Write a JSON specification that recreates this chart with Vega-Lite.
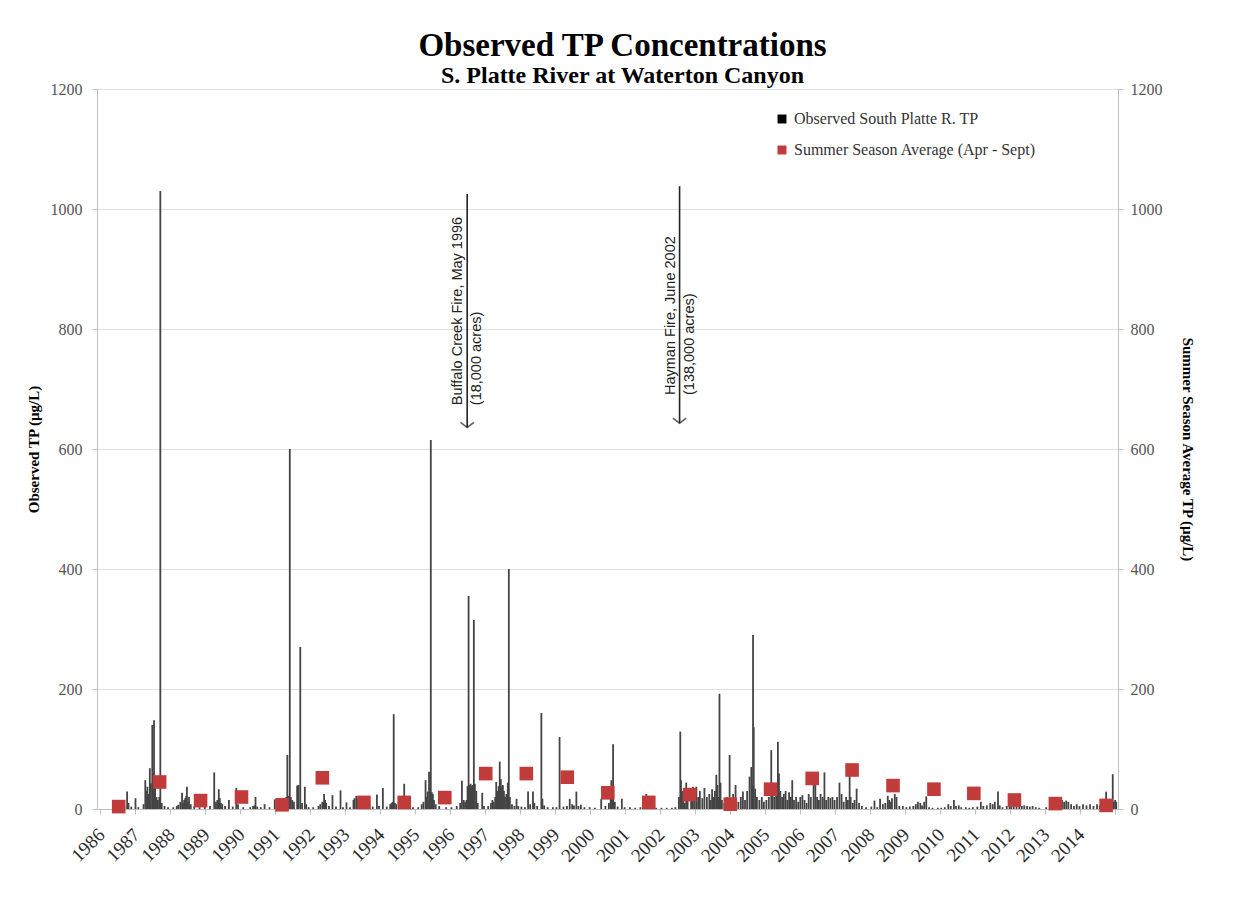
{
 "$schema": "https://vega.github.io/schema/vega-lite/v6.json",
 "width": 1021, "height": 720,
 "autosize": {"type": "none"},
 "padding": {"left": 97, "top": 89, "right": 115, "bottom": 90},
 "background": "white",
 "config": {"view": {"stroke": null}, "axisX": {"labelOverlap": false}},
 "title": {"text": "Observed TP Concentrations", "subtitle": "S. Platte River at Waterton  Canyon", "font": "Liberation Serif", "fontSize": 33, "fontWeight": "bold", "color": "#000", "subtitleFont": "Liberation Serif", "subtitleFontSize": 24, "subtitleFontWeight": "bold", "subtitleColor": "#000", "subtitlePadding": 1, "anchor": "middle", "offset": -7, "dx": 15},
 "datasets": {
  "obs": [
   {"t":1986.60,"tp":3},{"t":1986.70,"tp":5},{"t":1986.78,"tp":29},{"t":1986.82,"tp":10},{"t":1986.90,"tp":4},{"t":1987.02,"tp":18},{"t":1987.10,"tp":3},
   {"t":1987.25,"tp":8},{"t":1987.30,"tp":48},{"t":1987.33,"tp":30},{"t":1987.36,"tp":37},{"t":1987.40,"tp":25},{"t":1987.43,"tp":68},{"t":1987.46,"tp":43},{"t":1987.50,"tp":140},{"t":1987.53,"tp":60},{"t":1987.55,"tp":148},{"t":1987.58,"tp":35},{"t":1987.62,"tp":20},{"t":1987.66,"tp":15},{"t":1987.70,"tp":20},{"t":1987.73,"tp":1030},{"t":1987.77,"tp":10},{"t":1987.85,"tp":5},{"t":1987.95,"tp":3},
   {"t":1988.10,"tp":3},{"t":1988.20,"tp":5},{"t":1988.24,"tp":7},{"t":1988.30,"tp":12},{"t":1988.35,"tp":27},{"t":1988.38,"tp":10},{"t":1988.41,"tp":15},{"t":1988.44,"tp":18},{"t":1988.47,"tp":22},{"t":1988.49,"tp":37},{"t":1988.52,"tp":12},{"t":1988.55,"tp":20},{"t":1988.60,"tp":8},{"t":1988.70,"tp":5},{"t":1988.85,"tp":3},
   {"t":1989.00,"tp":4},{"t":1989.15,"tp":5},{"t":1989.27,"tp":61},{"t":1989.32,"tp":12},{"t":1989.36,"tp":15},{"t":1989.40,"tp":33},{"t":1989.43,"tp":18},{"t":1989.46,"tp":10},{"t":1989.50,"tp":8},{"t":1989.58,"tp":5},{"t":1989.69,"tp":15},{"t":1989.80,"tp":4},{"t":1989.90,"tp":35},{"t":1989.95,"tp":8},
   {"t":1990.10,"tp":3},{"t":1990.30,"tp":3},{"t":1990.38,"tp":5},{"t":1990.42,"tp":6},{"t":1990.45,"tp":20},{"t":1990.50,"tp":4},{"t":1990.60,"tp":3},{"t":1990.71,"tp":8},{"t":1990.85,"tp":3},{"t":1991.00,"tp":16},{"t":1991.10,"tp":3},
   {"t":1991.25,"tp":5},{"t":1991.30,"tp":17},{"t":1991.33,"tp":20},{"t":1991.36,"tp":90},{"t":1991.38,"tp":22},{"t":1991.41,"tp":18},{"t":1991.43,"tp":600},{"t":1991.46,"tp":20},{"t":1991.50,"tp":15},{"t":1991.55,"tp":12},{"t":1991.64,"tp":39},{"t":1991.68,"tp":40},{"t":1991.73,"tp":270},{"t":1991.78,"tp":10},{"t":1991.86,"tp":37},{"t":1991.90,"tp":8},{"t":1991.97,"tp":3},
   {"t":1992.10,"tp":3},{"t":1992.25,"tp":5},{"t":1992.30,"tp":8},{"t":1992.36,"tp":12},{"t":1992.39,"tp":10},{"t":1992.41,"tp":25},{"t":1992.44,"tp":15},{"t":1992.47,"tp":10},{"t":1992.55,"tp":5},{"t":1992.65,"tp":23},{"t":1992.75,"tp":4},{"t":1992.88,"tp":31},{"t":1992.95,"tp":3},{"t":1993.05,"tp":11},
   {"t":1993.15,"tp":3},{"t":1993.25,"tp":15},{"t":1993.28,"tp":18},{"t":1993.33,"tp":22},{"t":1993.36,"tp":18},{"t":1993.40,"tp":20},{"t":1993.44,"tp":15},{"t":1993.48,"tp":12},{"t":1993.52,"tp":10},{"t":1993.60,"tp":6},{"t":1993.70,"tp":4},{"t":1993.80,"tp":4},{"t":1993.92,"tp":24},{"t":1993.98,"tp":5},
   {"t":1994.09,"tp":35},{"t":1994.20,"tp":4},{"t":1994.30,"tp":8},{"t":1994.34,"tp":10},{"t":1994.37,"tp":12},{"t":1994.40,"tp":158},{"t":1994.43,"tp":10},{"t":1994.47,"tp":8},{"t":1994.55,"tp":5},{"t":1994.70,"tp":42},{"t":1994.80,"tp":4},{"t":1994.95,"tp":3},
   {"t":1995.10,"tp":3},{"t":1995.20,"tp":8},{"t":1995.25,"tp":12},{"t":1995.31,"tp":48},{"t":1995.34,"tp":20},{"t":1995.37,"tp":29},{"t":1995.41,"tp":62},{"t":1995.43,"tp":30},{"t":1995.46,"tp":615},{"t":1995.49,"tp":28},{"t":1995.52,"tp":25},{"t":1995.55,"tp":15},{"t":1995.60,"tp":8},{"t":1995.70,"tp":5},{"t":1995.90,"tp":3},
   {"t":1996.05,"tp":3},{"t":1996.20,"tp":5},{"t":1996.30,"tp":10},{"t":1996.35,"tp":47},{"t":1996.40,"tp":15},{"t":1996.44,"tp":12},{"t":1996.48,"tp":15},{"t":1996.51,"tp":38},{"t":1996.54,"tp":355},{"t":1996.57,"tp":40},{"t":1996.60,"tp":42},{"t":1996.63,"tp":38},{"t":1996.66,"tp":40},{"t":1996.69,"tp":315},{"t":1996.72,"tp":42},{"t":1996.76,"tp":30},{"t":1996.80,"tp":10},{"t":1996.93,"tp":27},{"t":1996.98,"tp":5},
   {"t":1997.10,"tp":5},{"t":1997.18,"tp":10},{"t":1997.22,"tp":15},{"t":1997.26,"tp":12},{"t":1997.30,"tp":20},{"t":1997.33,"tp":45},{"t":1997.36,"tp":30},{"t":1997.40,"tp":38},{"t":1997.43,"tp":79},{"t":1997.46,"tp":50},{"t":1997.49,"tp":38},{"t":1997.52,"tp":40},{"t":1997.55,"tp":30},{"t":1997.58,"tp":20},{"t":1997.62,"tp":25},{"t":1997.66,"tp":44},{"t":1997.69,"tp":400},{"t":1997.72,"tp":20},{"t":1997.78,"tp":8},{"t":1997.85,"tp":5},{"t":1997.91,"tp":17},{"t":1997.96,"tp":5},
   {"t":1998.05,"tp":4},{"t":1998.15,"tp":3},{"t":1998.24,"tp":29},{"t":1998.30,"tp":8},{"t":1998.38,"tp":29},{"t":1998.42,"tp":10},{"t":1998.50,"tp":5},{"t":1998.62,"tp":160},{"t":1998.65,"tp":17},{"t":1998.70,"tp":6},{"t":1998.80,"tp":3},{"t":1998.95,"tp":3},
   {"t":1999.05,"tp":3},{"t":1999.14,"tp":120},{"t":1999.25,"tp":4},{"t":1999.35,"tp":5},{"t":1999.43,"tp":17},{"t":1999.50,"tp":8},{"t":1999.55,"tp":6},{"t":1999.62,"tp":29},{"t":1999.68,"tp":5},{"t":1999.75,"tp":7},{"t":1999.85,"tp":3},
   {"t":2000.00,"tp":3},{"t":2000.15,"tp":2},{"t":2000.33,"tp":17},{"t":2000.45,"tp":5},{"t":2000.55,"tp":10},{"t":2000.60,"tp":20},{"t":2000.62,"tp":48},{"t":2000.65,"tp":30},{"t":2000.67,"tp":108},{"t":2000.72,"tp":12},{"t":2000.80,"tp":4},{"t":2000.92,"tp":17},{"t":2001.00,"tp":3},
   {"t":2001.15,"tp":3},{"t":2001.30,"tp":2},{"t":2001.45,"tp":3},{"t":2001.55,"tp":5},{"t":2001.62,"tp":25},{"t":2001.66,"tp":10},{"t":2001.75,"tp":3},{"t":2001.90,"tp":2},
   {"t":2002.05,"tp":2},{"t":2002.20,"tp":2},{"t":2002.35,"tp":2},{"t":2002.45,"tp":3},{"t":2002.55,"tp":20},{"t":2002.59,"tp":129},{"t":2002.61,"tp":48},{"t":2002.64,"tp":30},{"t":2002.68,"tp":20},{"t":2002.72,"tp":10},{"t":2002.76,"tp":44},{"t":2002.80,"tp":15},{"t":2002.90,"tp":25},{"t":2002.95,"tp":37},{"t":2003.00,"tp":20},{"t":2003.05,"tp":37},{"t":2003.10,"tp":20},{"t":2003.15,"tp":30},{"t":2003.22,"tp":18},{"t":2003.28,"tp":35},
   {"t":2003.35,"tp":20},{"t":2003.42,"tp":25},{"t":2003.46,"tp":15},{"t":2003.50,"tp":33},{"t":2003.54,"tp":20},{"t":2003.58,"tp":30},{"t":2003.62,"tp":57},{"t":2003.65,"tp":40},{"t":2003.68,"tp":20},{"t":2003.71,"tp":192},{"t":2003.74,"tp":44},{"t":2003.78,"tp":15},{"t":2003.85,"tp":10},{"t":2003.92,"tp":20},{"t":2004.00,"tp":90},{"t":2004.05,"tp":10},
   {"t":2004.10,"tp":25},{"t":2004.17,"tp":40},{"t":2004.25,"tp":12},{"t":2004.32,"tp":20},{"t":2004.38,"tp":29},{"t":2004.44,"tp":15},{"t":2004.50,"tp":30},{"t":2004.57,"tp":54},{"t":2004.62,"tp":70},{"t":2004.65,"tp":40},{"t":2004.67,"tp":290},{"t":2004.69,"tp":136},{"t":2004.73,"tp":34},{"t":2004.78,"tp":20},{"t":2004.85,"tp":15},{"t":2004.92,"tp":20},{"t":2004.98,"tp":12},
   {"t":2005.05,"tp":15},{"t":2005.12,"tp":20},{"t":2005.19,"tp":98},{"t":2005.23,"tp":25},{"t":2005.28,"tp":20},{"t":2005.33,"tp":40},{"t":2005.38,"tp":112},{"t":2005.41,"tp":59},{"t":2005.45,"tp":30},{"t":2005.50,"tp":20},{"t":2005.55,"tp":25},{"t":2005.60,"tp":30},{"t":2005.65,"tp":15},{"t":2005.70,"tp":28},{"t":2005.75,"tp":20},{"t":2005.79,"tp":48},{"t":2005.84,"tp":15},{"t":2005.90,"tp":20},{"t":2005.96,"tp":12},
   {"t":2006.02,"tp":20},{"t":2006.08,"tp":23},{"t":2006.14,"tp":15},{"t":2006.20,"tp":10},{"t":2006.26,"tp":25},{"t":2006.32,"tp":20},{"t":2006.40,"tp":48},{"t":2006.45,"tp":41},{"t":2006.50,"tp":20},{"t":2006.55,"tp":15},{"t":2006.60,"tp":25},{"t":2006.66,"tp":20},{"t":2006.71,"tp":61},{"t":2006.76,"tp":15},{"t":2006.82,"tp":20},{"t":2006.88,"tp":18},{"t":2006.94,"tp":20},
   {"t":2007.00,"tp":15},{"t":2007.07,"tp":20},{"t":2007.14,"tp":44},{"t":2007.20,"tp":25},{"t":2007.26,"tp":12},{"t":2007.33,"tp":20},{"t":2007.38,"tp":15},{"t":2007.43,"tp":65},{"t":2007.46,"tp":20},{"t":2007.52,"tp":10},{"t":2007.57,"tp":15},{"t":2007.63,"tp":34},{"t":2007.70,"tp":10},{"t":2007.78,"tp":5},{"t":2007.90,"tp":3},
   {"t":2008.05,"tp":4},{"t":2008.14,"tp":14},{"t":2008.22,"tp":3},{"t":2008.30,"tp":17},{"t":2008.38,"tp":8},{"t":2008.45,"tp":10},{"t":2008.52,"tp":22},{"t":2008.56,"tp":15},{"t":2008.60,"tp":12},{"t":2008.64,"tp":18},{"t":2008.72,"tp":25},{"t":2008.77,"tp":20},{"t":2008.85,"tp":5},{"t":2008.95,"tp":5},
   {"t":2009.05,"tp":3},{"t":2009.15,"tp":4},{"t":2009.25,"tp":5},{"t":2009.32,"tp":8},{"t":2009.38,"tp":12},{"t":2009.45,"tp":10},{"t":2009.50,"tp":6},{"t":2009.56,"tp":12},{"t":2009.62,"tp":21},{"t":2009.70,"tp":3},{"t":2009.80,"tp":2},
   {"t":2009.95,"tp":2},{"t":2010.05,"tp":2},{"t":2010.15,"tp":3},{"t":2010.25,"tp":8},{"t":2010.32,"tp":5},{"t":2010.41,"tp":15},{"t":2010.47,"tp":5},{"t":2010.55,"tp":6},{"t":2010.62,"tp":3},{"t":2010.75,"tp":3},{"t":2010.85,"tp":2},
   {"t":2010.95,"tp":3},{"t":2011.08,"tp":4},{"t":2011.18,"tp":12},{"t":2011.25,"tp":5},{"t":2011.35,"tp":6},{"t":2011.45,"tp":10},{"t":2011.52,"tp":8},{"t":2011.58,"tp":12},{"t":2011.67,"tp":29},{"t":2011.72,"tp":6},{"t":2011.80,"tp":3},
   {"t":2011.92,"tp":5},{"t":2012.00,"tp":22},{"t":2012.05,"tp":18},{"t":2012.12,"tp":8},{"t":2012.20,"tp":6},{"t":2012.28,"tp":6},{"t":2012.35,"tp":5},{"t":2012.42,"tp":6},{"t":2012.50,"tp":5},{"t":2012.58,"tp":4},{"t":2012.66,"tp":5},{"t":2012.75,"tp":3},{"t":2012.85,"tp":2},
   {"t":2013.05,"tp":3},{"t":2013.25,"tp":8},{"t":2013.32,"tp":10},{"t":2013.38,"tp":12},{"t":2013.44,"tp":13},{"t":2013.50,"tp":15},{"t":2013.56,"tp":12},{"t":2013.62,"tp":14},{"t":2013.68,"tp":12},{"t":2013.76,"tp":8},{"t":2013.84,"tp":5},{"t":2013.92,"tp":8},{"t":2014.00,"tp":5},
   {"t":2014.10,"tp":8},{"t":2014.20,"tp":6},{"t":2014.30,"tp":8},{"t":2014.40,"tp":5},{"t":2014.50,"tp":8},{"t":2014.58,"tp":6},{"t":2014.66,"tp":12},{"t":2014.72,"tp":15},{"t":2014.76,"tp":29},{"t":2014.80,"tp":10},{"t":2014.84,"tp":15},{"t":2014.88,"tp":12},{"t":2014.92,"tp":15},{"t":2014.95,"tp":58},{"t":2014.98,"tp":12},{"t":2015.02,"tp":15},{"t":2015.05,"tp":12}
  ],
  "avg": [
   {"t":1986.54,"avg":4},{"t":1987.71,"avg":45},{"t":1988.88,"avg":14},{"t":1990.05,"avg":20},{"t":1991.21,"avg":7},{"t":1992.36,"avg":52},{"t":1993.55,"avg":11},{"t":1994.70,"avg":11},{"t":1995.86,"avg":19},{"t":1997.03,"avg":59},{"t":1998.19,"avg":59},{"t":1999.36,"avg":53},{"t":2000.52,"avg":27},{"t":2001.69,"avg":11},{"t":2002.86,"avg":24},{"t":2004.02,"avg":8},{"t":2005.17,"avg":33},{"t":2006.36,"avg":51},{"t":2007.50,"avg":65},{"t":2008.67,"avg":39},{"t":2009.84,"avg":33},{"t":2010.98,"avg":26},{"t":2012.14,"avg":15},{"t":2013.31,"avg":9},{"t":2014.76,"avg":6}
  ],
  "fires": [
   {"t":1996.5,"top":1025,"tip":636,"line1":"Buffalo Creek Fire, May 1996","line2":"(18,000 acres)","ty":673},
   {"t":2002.57,"top":1038,"tip":643,"line1":"Hayman Fire, June  2002","line2":"(138,000 acres)","ty":690}
  ]
 },
 "encoding": {
  "x": {"field": "t", "type": "quantitative", "title": null, "scale": {"domain": [1985.92, 2015.1], "nice": false, "zero": false},
   "axis": {"values": [1986,1987,1988,1989,1990,1991,1992,1993,1994,1995,1996,1997,1998,1999,2000,2001,2002,2003,2004,2005,2006,2007,2008,2009,2010,2011,2012,2013,2014,2015], "format": "d", "labelExpr": "datum.value > 2014.5 ? '' : datum.label", "labelAngle": -45, "labelOverlap": false, "labelBound": false, "labelFont": "Liberation Serif", "labelFontSize": 19, "labelColor": "#2a2a2a", "tickSize": 5, "tickColor": "#bfbfbf", "domainColor": "#bfbfbf", "grid": false, "labelPadding": 11, "labelOffset": -5}}
 },
 "layer": [
  {
   "data": {"name": "obs"},
   "mark": {"type": "rule", "strokeWidth": 1.8, "color": "#444"},
   "encoding": {
    "y": {"field": "tp", "type": "quantitative", "scale": {"domain": [0, 1200], "nice": false},
     "axis": {"title": "Observed TP (µg/L)", "values": [0,200,400,600,800,1000,1200], "format": "d", "labelFont": "Liberation Serif", "labelFontSize": 16, "labelColor": "#555", "titleFont": "Liberation Serif", "titleFontSize": 15, "titleFontWeight": "bold", "titleColor": "#000", "grid": true, "gridColor": "#e0e0e0", "domainColor": "#bfbfbf", "tickColor": "#bfbfbf", "tickSize": 5, "labelPadding": 10, "titlePadding": 9}},
    "y2": {"datum": 0}
   }
  },
  {
   "data": {"name": "avg"},
   "transform": [{"calculate": "'Summer Season Average (Apr - Sept)'", "as": "series"}],
   "mark": {"type": "point", "shape": "square", "filled": true, "size": 185, "opacity": 1},
   "encoding": {
    "y": {"field": "avg", "type": "quantitative", "scale": {"domain": [0, 1200], "nice": false},
     "axis": {"orient": "right", "title": "Summer Season Average TP (µg/L)", "values": [0,200,400,600,800,1000,1200], "format": "d", "labelFont": "Liberation Serif", "labelFontSize": 16, "labelColor": "#555", "titleFont": "Liberation Serif", "titleFontSize": 15, "titleFontWeight": "bold", "titleColor": "#000", "grid": false, "domainColor": "#bfbfbf", "tickColor": "#bfbfbf", "tickSize": 5, "labelPadding": 7, "titlePadding": 17}},
    "color": {"field": "series", "type": "nominal",
     "scale": {"domain": ["Observed South Platte R. TP", "Summer Season Average (Apr - Sept)"], "range": ["#000000", "#c23b3b"]},
     "legend": {"title": null, "orient": "none", "legendX": 677, "legendY": 22, "symbolType": "square", "symbolSize": 80, "labelFont": "Liberation Serif", "labelFontSize": 16, "labelColor": "#333", "labelLimit": 0, "rowPadding": 15, "labelOffset": 4}}
   }
  },
  {
   "data": {"name": "fires"},
   "mark": {"type": "rule", "strokeWidth": 1.6, "color": "#222"},
   "encoding": {
    "y": {"field": "top", "type": "quantitative", "scale": {"domain": [0, 1200], "nice": false}, "axis": null},
    "y2": {"field": "tip"}
   }
  },
  {
   "data": {"name": "fires"},
   "mark": {"type": "point", "shape": "M-1,-0.75L0,0L1,-0.75", "filled": false, "stroke": "#222", "strokeWidth": 1.6, "size": 180},
   "encoding": {
    "y": {"field": "tip", "type": "quantitative", "scale": {"domain": [0, 1200], "nice": false}, "axis": null}
   }
  },
  {
   "data": {"name": "fires"},
   "mark": {"type": "text", "angle": -90, "align": "left", "baseline": "bottom", "font": "Liberation Sans", "fontSize": 14.5, "color": "#222", "dy": -2},
   "encoding": {
    "y": {"field": "ty", "type": "quantitative", "scale": {"domain": [0, 1200], "nice": false}, "axis": null},
    "text": {"field": "line1"}
   }
  },
  {
   "data": {"name": "fires"},
   "mark": {"type": "text", "angle": -90, "align": "left", "baseline": "top", "font": "Liberation Sans", "fontSize": 14.5, "color": "#222", "dy": 3},
   "encoding": {
    "y": {"field": "ty", "type": "quantitative", "scale": {"domain": [0, 1200], "nice": false}, "axis": null},
    "text": {"field": "line2"}
   }
  }
 ],
 "resolve": {"scale": {"y": "independent"}}
}
